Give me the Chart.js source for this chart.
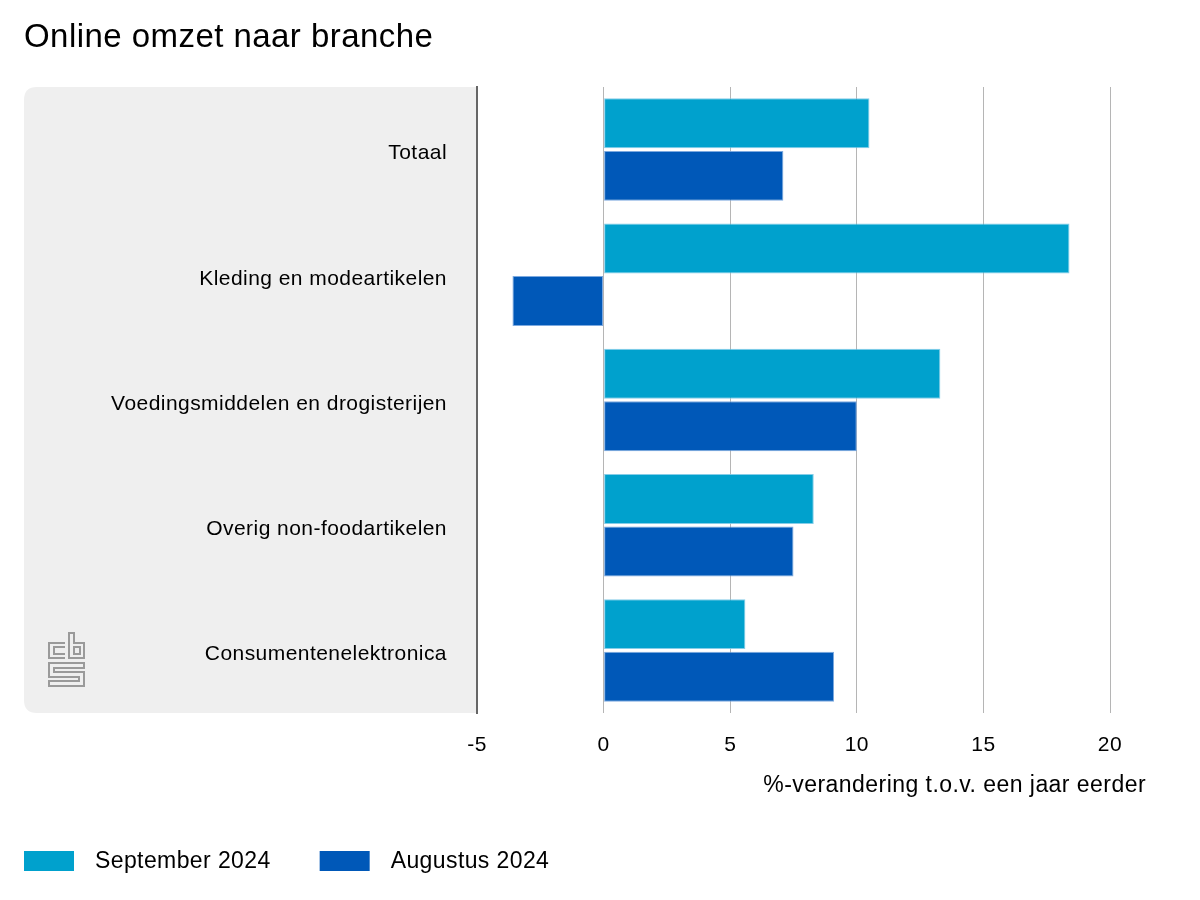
<!DOCTYPE html>
<html><head><meta charset="utf-8">
<script src="https://cdn.jsdelivr.net/npm/chart.js@4"></script>
<style>html,body{margin:0;padding:0;background:#fff}#wrap{width:1200px;height:900px;position:relative}</style>
</head><body><div id="wrap"><canvas id="c" width="1200" height="900"></canvas></div>
<script>
const categories = ["Totaal", "Kleding en modeartikelen", "Voedingsmiddelen en drogisterijen", "Overig non-foodartikelen", "Consumentenelektronica"];
const september2024 = [10.5, 18.4, 13.3, 8.3, 5.6];
const augustus2024 = [7.1, -3.6, 10.0, 7.5, 9.1];
const seriesNames = ["September 2024", "Augustus 2024"];
const xTicks = [-5, 0, 5, 10, 15, 20];
const titleText = "Online omzet naar branche";
const axisTitle = "%-verandering t.o.v. een jaar eerder";

const FONT = "'Liberation Sans', Arial, Helvetica, sans-serif";

const decor = {
  id: 'decor',
  beforeDraw(chart) {
    const ctx = chart.ctx, a = chart.chartArea;
    ctx.save();
    const x0 = 24, x1 = a.left, y0 = a.top, y1 = a.bottom, r = 13;
    ctx.fillStyle = '#efefef';
    ctx.beginPath();
    ctx.moveTo(x1, y0);
    ctx.lineTo(x0 + r, y0);
    ctx.quadraticCurveTo(x0, y0, x0, y0 + r);
    ctx.lineTo(x0, y1 - r);
    ctx.quadraticCurveTo(x0, y1, x0 + r, y1);
    ctx.lineTo(x1, y1);
    ctx.closePath();
    ctx.fill();
    // logo
    ctx.strokeStyle = '#9a9a9a';
    ctx.lineWidth = 2;
    const lx = 49, ly = 633;
    ctx.beginPath();
    ctx.moveTo(lx + 16, ly + 10); ctx.lineTo(lx, ly + 10); ctx.lineTo(lx, ly + 25); ctx.lineTo(lx + 16, ly + 25);
    ctx.moveTo(lx + 16, ly + 14); ctx.lineTo(lx + 5, ly + 14); ctx.lineTo(lx + 5, ly + 21); ctx.lineTo(lx + 16, ly + 21);
    ctx.moveTo(lx + 20, ly); ctx.lineTo(lx + 20, ly + 25); ctx.lineTo(lx + 35, ly + 25); ctx.lineTo(lx + 35, ly + 10); ctx.lineTo(lx + 25, ly + 10); ctx.lineTo(lx + 25, ly);
    ctx.closePath();
    ctx.rect(lx + 25, ly + 14, 6, 7);
    ctx.moveTo(lx + 35, ly + 30); ctx.lineTo(lx, ly + 30); ctx.lineTo(lx, ly + 44); ctx.lineTo(lx + 30, ly + 44);
    ctx.lineTo(lx + 30, ly + 48); ctx.lineTo(lx, ly + 48); ctx.lineTo(lx, ly + 53); ctx.lineTo(lx + 35, ly + 53);
    ctx.lineTo(lx + 35, ly + 39); ctx.lineTo(lx + 5, ly + 39); ctx.lineTo(lx + 5, ly + 35); ctx.lineTo(lx + 35, ly + 35); ctx.closePath();
    ctx.stroke();
    ctx.restore();
    ctx.letterSpacing = '0.45px';
  },
  afterDraw(chart) {
    const ctx = chart.ctx;
    ctx.save();
    ctx.fillStyle = '#000';
    ctx.letterSpacing = '0.45px';
    ctx.font = '33px ' + FONT;
    ctx.textBaseline = 'alphabetic';
    ctx.textAlign = 'left';
    ctx.fillText(titleText, 24, 47);
    ctx.font = '23px ' + FONT;
    ctx.textAlign = 'right';
    ctx.textBaseline = 'middle';
    ctx.fillText(axisTitle, 1146, 786);
    // legend
    ctx.letterSpacing = '0.4px';
    ctx.textAlign = 'left';
    let x = 24;
    const y = 861;
    chart.data.datasets.forEach((ds) => {
      ctx.fillStyle = ds.backgroundColor;
      ctx.fillRect(x, y - 10, 50, 20);
      ctx.fillStyle = '#000';
      ctx.fillText(ds.label, x + 71, y + 1);
      x += 71 + ctx.measureText(ds.label).width + 49;
    });
    ctx.restore();
  }
};

new Chart(document.getElementById('c'), {
  type: 'bar',
  data: {
    labels: categories,
    datasets: [
      { label: seriesNames[0], data: september2024, backgroundColor: '#00a1cd', borderColor: 'rgba(120,200,230,0.9)', borderWidth: 1, borderSkipped: false },
      { label: seriesNames[1], data: augustus2024, backgroundColor: '#0058b8', borderColor: 'rgba(110,160,220,0.9)', borderWidth: 1, borderSkipped: false }
    ]
  },
  options: {
    indexAxis: 'y',
    responsive: false,
    animation: false,
    devicePixelRatio: 1,
    categoryPercentage: 0.84,
    barPercentage: 0.95,
    layout: { padding: { top: 87, bottom: 100, right: 90, left: 0 } },
    plugins: { legend: { display: false }, tooltip: { enabled: false }, title: { display: false } },
    scales: {
      x: {
        min: xTicks[0], max: xTicks[xTicks.length - 1],
        afterBuildTicks(s) { s.ticks = xTicks.map(v => ({ value: v })); },
        afterFit(s) { s.height = 87; },
        grid: { color: '#b5b5b5', lineWidth: 1, drawTicks: false },
        border: { display: false },
        ticks: { color: '#000', font: { size: 21, family: FONT }, padding: 20, maxRotation: 0 }
      },
      y: {
        afterFit(s) { s.width = 477; },
        grid: { display: false, drawTicks: false },
        border: { display: true, color: '#666', width: 2 },
        ticks: { color: '#000', font: { size: 21, family: FONT }, padding: 30, labelOffset: 4 }
      }
    }
  },
  plugins: [decor]
});
</script></body></html>
